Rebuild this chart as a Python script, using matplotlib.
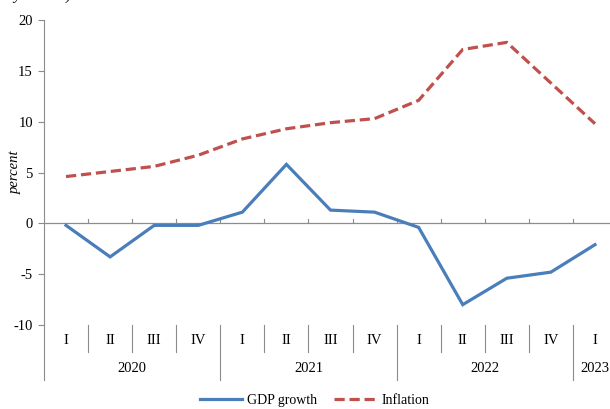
import numpy as np
import matplotlib
matplotlib.use("Agg")
import matplotlib.pyplot as plt
from matplotlib.lines import Line2D
import matplotlib.transforms as mtransforms

# datos
trimestres = ['I', 'II', 'III', 'IV', 'I', 'II', 'III', 'IV', 'I', 'II', 'III', 'IV', 'I']
anios = ['2020', '2021', '2022', '2023']
trimestres_por_anio = [4, 4, 4, 1]
pib = [-0.2, -3.3, -0.2, -0.2, 1.1, 5.8, 1.3, 1.1, -0.4, -8.0, -5.4, -4.8, -2.1]
inflacion = [4.6, 5.1, 5.6, 6.7, 8.3, 9.3, 9.9, 10.3, 12.1, 17.1, 17.8, 13.8, 9.8]

plt.rcParams['font.family'] = ['Liberation Serif', 'DejaVu Serif']

azul = '#4a7ebb'
rojo = '#c0504d'
gris = '#8c8c8c'
guiones = (0, (3.2, 1.5))

fig = plt.figure(figsize=(6.1, 4.09), dpi=100)
ax = fig.add_axes([44 / 610, 1 - 325 / 409, 573 / 610, 305 / 409])

x = np.arange(len(trimestres))

ax.plot(x, pib, color=azul, linewidth=2.3, solid_joinstyle='miter', zorder=3)
ax.plot(x, inflacion, color=rojo, linewidth=2.3, linestyle=guiones, zorder=3)

ax.set_xlim(-0.5, 12.5)
ax.set_ylim(-10, 20)
ax.set_yticks([-10, -5, 0, 5, 10, 15, 20])
ax.set_yticklabels(['-10', '-5', '0', '5', '10', '15', '20'])
ax.set_xticks([])
for lado in ['top', 'right', 'bottom']:
    ax.spines[lado].set_visible(False)
ax.spines['left'].set_color(gris)
ax.tick_params(axis='y', colors=gris, length=4, width=0.8, labelsize=10.5, labelcolor='black', pad=4)

# linea del cero con marcas hacia arriba
ax.axhline(0, color=gris, linewidth=0.9, zorder=2)
for b in np.arange(0.5, 12, 1):
    ax.plot([b, b], [0, 0.4], color=gris, linewidth=0.8, zorder=2)

# etiquetas de categorias debajo del grafico
trans = mtransforms.blended_transform_factory(ax.transData, ax.transAxes)
ax.plot([-0.5, -0.5], [0, -0.18], color=gris, linewidth=0.8, transform=trans, clip_on=False)
for i, t in enumerate(trimestres):
    ax.text(i, -0.052, t, transform=trans, ha='center', va='center', fontsize=10.5)
fin = -0.5
for a, n in zip(anios, trimestres_por_anio):
    for k in range(1, n):
        ax.plot([fin + k, fin + k], [0, -0.088], color=gris, linewidth=0.8, transform=trans, clip_on=False)
    centro = fin + n / 2
    fin = fin + n
    ax.plot([fin, fin], [0, -0.18], color=gris, linewidth=0.8, transform=trans, clip_on=False)
    ax.text(centro, -0.142, a, transform=trans, ha='center', va='center', fontsize=10.5)

ax.set_ylabel('percent', fontsize=10.5, style='italic')
ax.yaxis.set_label_coords(-0.038, 0.5)

# titulo cortado arriba (solo se ven los trazos bajos)
fig.text(0.021, 1.0, 'year end)', fontsize=11, style='italic', ha='left', va='baseline')

manejadores = [Line2D([], [], color=azul, linewidth=2.3),
               Line2D([], [], color=rojo, linewidth=2.3, linestyle=guiones)]
fig.legend(manejadores, ['GDP growth', 'Inflation'], loc='center', bbox_to_anchor=(0.516, 0.022),
           ncol=2, frameon=False, fontsize=10, handlelength=3, columnspacing=1.2, handletextpad=0.4)

plt.savefig('out.png', dpi=100)
